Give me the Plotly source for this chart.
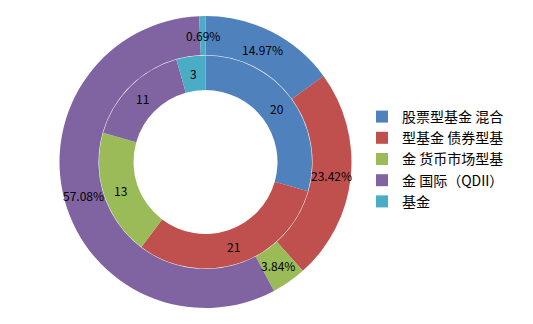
import math
import plotly.graph_objects as go

labels = ["股票型基金 混合", "型基金 债券型基", "金 货币市场型基", "金 国际（QDII）", "基金"]
outer_pct = [14.97, 23.42, 3.84, 57.08, 0.69]
inner_cnt = [20, 21, 13, 11, 3]
colors = ["#4F81BD", "#C0504D", "#9BBB59", "#8064A2", "#4BACC6"]

W, H = 533, 324
CX, CY = 205.5, 162
R_OUT, R_MID, R_IN = 146, 107, 72

def dom(r):
    return dict(x=[(CX - r) / W, (CX + r) / W], y=[(H - CY - r) / H, (H - CY + r) / H])

fig = go.Figure()
fig.add_trace(go.Pie(
    labels=labels, values=outer_pct, sort=False, direction="clockwise", rotation=0,
    hole=R_MID / R_OUT, domain=dom(R_OUT), textinfo="none", hoverinfo="label+value",
    marker=dict(colors=colors, line=dict(width=0)), showlegend=True,
))
fig.add_trace(go.Pie(
    labels=labels, values=inner_cnt, sort=False, direction="clockwise", rotation=0,
    hole=R_IN / (R_MID - 0.5), domain=dom(R_MID - 0.5), textinfo="none", hoverinfo="label+value",
    marker=dict(colors=colors, line=dict(width=0)), showlegend=False,
))

def add_labels(values, texts, radius):
    total = sum(values)
    cum = 0
    for v, t in zip(values, texts):
        mid = (cum + v / 2) / total * 2 * math.pi
        cum += v
        x = CX + radius * math.sin(mid)
        y = CY - radius * math.cos(mid)
        fig.add_annotation(x=x / W, y=(H - y) / H, xref="paper", yref="paper",
                           xanchor="center", yanchor="middle",
                           text=t, showarrow=False,
                           font=dict(family="Noto Sans CJK SC", size=12, color="#000"))

add_labels(outer_pct, [f"{v:.2f}%" for v in outer_pct], (R_OUT + R_MID) / 2)
add_labels(inner_cnt, [str(v) for v in inner_cnt], (R_MID + R_IN) / 2)

fig.update_layout(
    width=W, height=H, margin=dict(l=0, r=0, t=0, b=0),
    paper_bgcolor="white", plot_bgcolor="white",
    legend=dict(x=362 / W, y=(H - 159) / H, xanchor="left", yanchor="middle",
                font=dict(family="Noto Sans CJK SC", size=14, color="#000"),
                bgcolor="rgba(0,0,0,0)"),
)
fig.write_html("out.html")
